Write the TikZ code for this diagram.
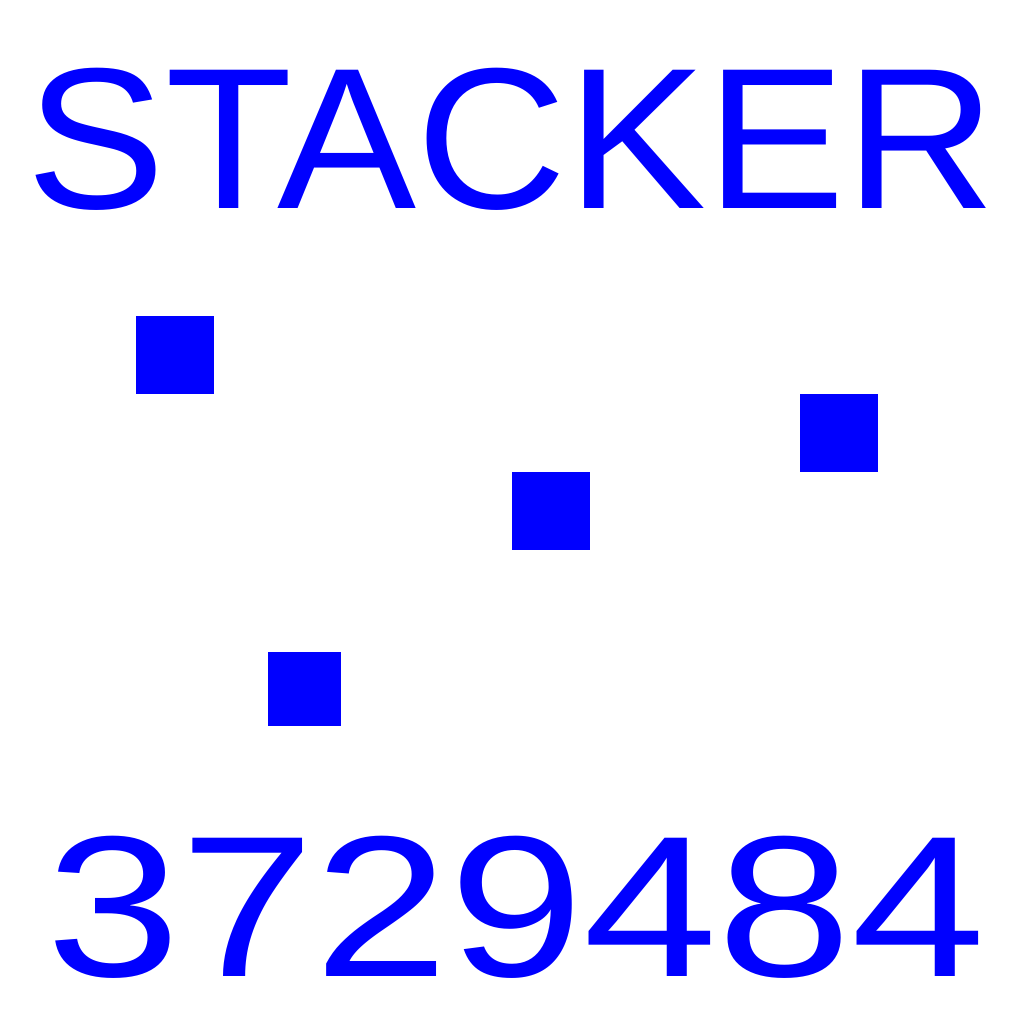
\documentclass[tikz,border=0pt]{standalone}
\usepackage{fontspec}
\setmainfont{Liberation Sans}
\usepackage{tikz}

\begin{document}
\begin{tikzpicture}[blok/.style={fill=blue}, woord/.style={blue, anchor=base west, inner sep=0pt, font=\fontsize{57.2pt}{60pt}\selectfont}]
	\useasboundingbox (0,0) rectangle (10.24,10.24);

	\node[woord] (titel) at (0.26,8.15) {\scalebox{1.037}[1]{STACKER}};

	\fill[blok] (1.36,6.30) rectangle (2.14,7.08);
	\fill[blok] (8.00,5.52) rectangle (8.78,6.30);
	\fill[blok] (5.12,4.74) rectangle (5.90,5.52);
	\fill[blok] (2.68,2.98) rectangle (3.41,3.72);

	\node[woord] (getal) at (0.46,0.47) {\scalebox{1.2}[1]{3729484}};
\end{tikzpicture}
\end{document}
